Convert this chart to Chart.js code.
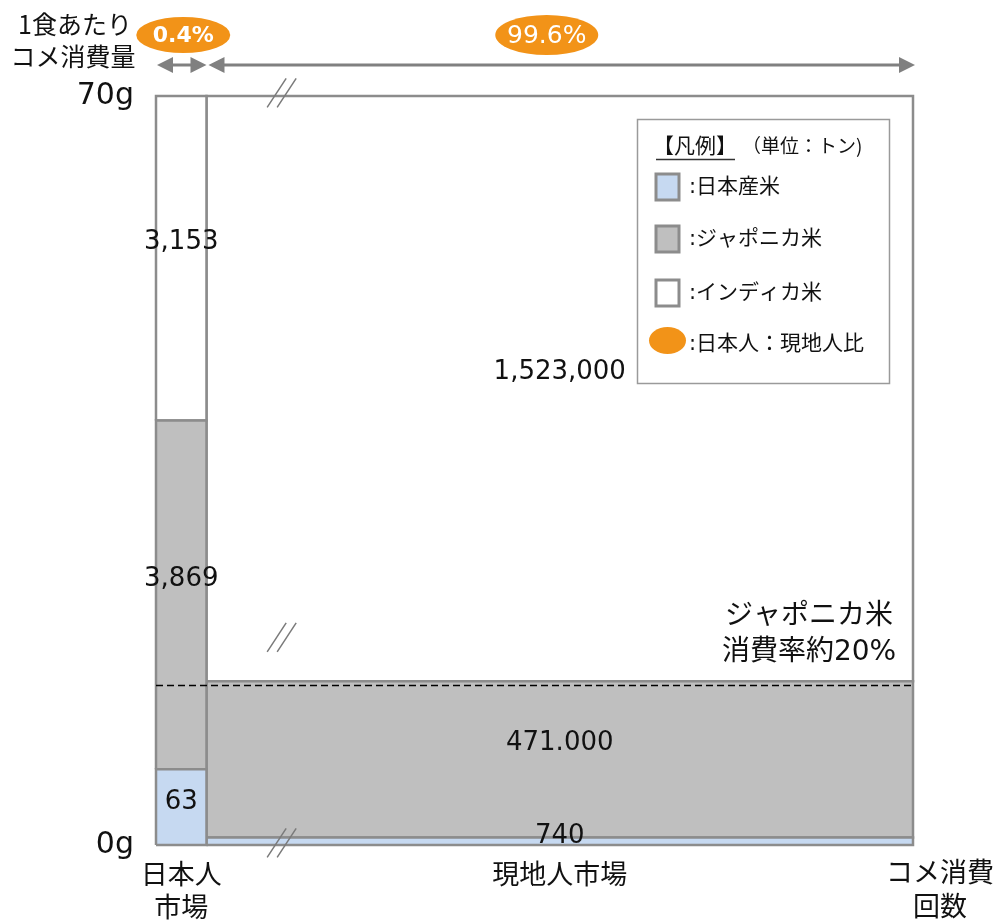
<!DOCTYPE html>
<html lang="ja">
<head>
<meta charset="utf-8">
<title>コメ消費量</title>
<script src="https://cdn.jsdelivr.net/npm/chart.js@4.4.1/dist/chart.umd.min.js"></script>
<style>
  html, body { margin: 0; padding: 0; background: #fff; }
  #wrap { width: 994px; height: 922px; position: relative; }
</style>
</head>
<body>
<div id="wrap"><canvas id="riceChart"></canvas></div>
<script>
// 市場（カテゴリ）と人数比
const MARKETS = [['日本人', '市場'], '現地人市場'];
const MARKET_SHARE = ['0.4%', '99.6%'];

// 横軸の区切り（模式図なので実比率ではない, 0-100）
const COLUMN_EDGES = [0, 6.67, 100];

// 積み上げの高さ (1食あたり g)
const JAPAN_RICE_G = [7.07, 0.7];
const JAPONICA_G = [32.6, 14.6];
const INDICA_G = [30.33, 54.7];

// 表示ラベル（トン）
const JAPAN_RICE_T = ['63', '740'];
const JAPONICA_T = ['3,869', '471.000'];
const INDICA_T = ['3,153', '1,523,000'];

const Y_TICKS = [0, 70];
const JAPONICA_LINE_G = 14.9;

const FONT_LATIN = '"DejaVu Sans", "Noto Sans CJK JP", sans-serif';
const FONT_JP = '"Noto Sans CJK JP", sans-serif';
const BORDER_GRAY = '#8c8c8c';
const ORANGE = '#F29318';

const SERIES = [
    { name: '日本産米',     heights: JAPAN_RICE_G, labels: JAPAN_RICE_T, color: '#C6D9F1' },
    { name: 'ジャポニカ米', heights: JAPONICA_G,   labels: JAPONICA_T,   color: '#BFBFBF' },
    { name: 'インディカ米', heights: INDICA_G,     labels: INDICA_T,     color: '#FFFFFF' }
];

// 各セグメントを四角形（閉じた折れ線）としてデータセット化
const rects = [];
const datasets = [];
for (let c = 0; c < MARKETS.length; c++) {
    const x0 = COLUMN_EDGES[c], x1 = COLUMN_EDGES[c + 1];
    let base = 0;
    SERIES.forEach(s => {
        const y0 = base, y1 = base + s.heights[c];
        base = y1;
        rects.push({ x0, x1, y0, y1, label: s.labels[c] });
        datasets.push({
            label: s.name,
            data: [{ x: x0, y: y0 }, { x: x1, y: y0 }, { x: x1, y: y1 }, { x: x0, y: y1 }, { x: x0, y: y0 }],
            showLine: true,
            fill: 'shape',
            backgroundColor: s.color,
            borderColor: BORDER_GRAY,
            borderWidth: 2.5,
            pointRadius: 0,
            tension: 0,
            clip: false,
            order: 1
        });
    });
}

// ジャポニカ米消費率の破線
datasets.push({
    label: 'japonica-line',
    data: [{ x: COLUMN_EDGES[0], y: JAPONICA_LINE_G }, { x: COLUMN_EDGES[COLUMN_EDGES.length - 1], y: JAPONICA_LINE_G }],
    showLine: true,
    fill: false,
    borderColor: '#000',
    borderWidth: 1.5,
    borderDash: [7, 4],
    pointRadius: 0,
    clip: false,
    order: 0
});

function centerText(ctx, text, x, y, font, color) {
    ctx.font = font;
    ctx.fillStyle = color || '#111';
    ctx.textAlign = 'center';
    ctx.textBaseline = 'middle';
    ctx.fillText(text, x, y);
}

function drawArrow(ctx, xa, xb, y) {
    ctx.strokeStyle = '#808080';
    ctx.fillStyle = '#808080';
    ctx.lineWidth = 3;
    ctx.beginPath();
    ctx.moveTo(xa + 12, y);
    ctx.lineTo(xb - 12, y);
    ctx.stroke();
    ctx.beginPath();
    ctx.moveTo(xa, y); ctx.lineTo(xa + 16, y - 8); ctx.lineTo(xa + 16, y + 8); ctx.closePath();
    ctx.moveTo(xb, y); ctx.lineTo(xb - 16, y - 8); ctx.lineTo(xb - 16, y + 8); ctx.closePath();
    ctx.fill();
}

function drawBreak(ctx, cx, cy) {
    ctx.strokeStyle = '#7a7a7a';
    ctx.lineWidth = 1.5;
    [-5, 5].forEach(d => {
        ctx.beginPath();
        ctx.moveTo(cx + d - 9.5, cy + 14.5);
        ctx.lineTo(cx + d + 9.5, cy - 14.5);
        ctx.stroke();
    });
}

const decorPlugin = {
    id: 'decor',
    afterDatasetsDraw(chart) {
        const { ctx, scales: { x, y } } = chart;
        ctx.save();
        // データラベル
        rects.forEach(r => {
            const px = (x.getPixelForValue(r.x0) + x.getPixelForValue(r.x1)) / 2;
            const top = y.getPixelForValue(r.y1), bot = y.getPixelForValue(r.y0);
            const nudge = (bot - top) > 100 ? -16 : -5;
            centerText(ctx, r.label, px, (top + bot) / 2 + nudge, '26px ' + FONT_LATIN, '#111');
        });
        ctx.restore();
    },
    afterDraw(chart) {
        const { ctx, chartArea, scales: { x, y } } = chart;
        ctx.save();

        // 左上の軸タイトル
        centerText(ctx, '1食あたり', 75, 24, '25px ' + FONT_JP);
        centerText(ctx, 'コメ消費量', 73, 56, '25px ' + FONT_JP);

        // 人数比の楕円
        const bubbleNudge = [2, -13];
        const bubbleSize = [[47, 18], [51.5, 20]];
        const bubbleFont = ['bold 22px ' + FONT_LATIN, '25px ' + FONT_LATIN];
        MARKET_SHARE.forEach((t, i) => {
            const cx = (x.getPixelForValue(COLUMN_EDGES[i]) + x.getPixelForValue(COLUMN_EDGES[i + 1])) / 2 + bubbleNudge[i];
            ctx.fillStyle = ORANGE;
            ctx.beginPath();
            ctx.ellipse(cx, 35, bubbleSize[i][0], bubbleSize[i][1], 0, 0, Math.PI * 2);
            ctx.fill();
            centerText(ctx, t, cx, 36, bubbleFont[i], '#fff');
        });

        // 幅を示す矢印
        for (let i = 0; i < MARKETS.length; i++) {
            const xa = x.getPixelForValue(COLUMN_EDGES[i]) + (i === 0 ? 1 : 2);
            const xb = x.getPixelForValue(COLUMN_EDGES[i + 1]) + (i === 0 ? 0 : 2);
            drawArrow(ctx, xa, xb, 65);
        }

        // 省略記号 (//)
        const bx = x.getPixelForValue(16.6);
        [70.3, 19.4, 0.2].forEach(v => drawBreak(ctx, bx, y.getPixelForValue(v)));

        // 注記
        const ly = y.getPixelForValue(JAPONICA_LINE_G);
        centerText(ctx, 'ジャポニカ米', 809, ly - 69, '28px ' + FONT_LATIN);
        centerText(ctx, '消費率約20%', 809, ly - 33, '28px ' + FONT_LATIN);

        // 横軸タイトル
        centerText(ctx, 'コメ消費', chartArea.right + 27, 872, '27px ' + FONT_JP);
        centerText(ctx, '回数', chartArea.right + 27, 906, '27px ' + FONT_JP);

        // 凡例
        ctx.strokeStyle = '#9a9a9a';
        ctx.lineWidth = 1.5;
        ctx.strokeRect(637.5, 119.5, 252, 264);
        ctx.fillStyle = '#111';
        ctx.textAlign = 'left';
        ctx.textBaseline = 'middle';
        ctx.font = '21px ' + FONT_JP;
        ctx.fillText('【凡例】', 653, 145);
        const tw = ctx.measureText('【凡例】').width;
        ctx.strokeStyle = '#333';
        ctx.lineWidth = 1.5;
        ctx.beginPath();
        ctx.moveTo(656, 159.5);
        ctx.lineTo(653 + tw - 2, 159.5);
        ctx.stroke();
        ctx.font = '19px ' + FONT_JP;
        ctx.fillText('（単位：トン)', 742, 146);

        const rows = [187, 239, 293];
        SERIES.forEach((s, i) => {
            ctx.fillStyle = s.color;
            ctx.fillRect(656, rows[i] - 13, 23, 26);
            ctx.strokeStyle = BORDER_GRAY;
            ctx.lineWidth = 3;
            ctx.strokeRect(656, rows[i] - 13, 23, 26);
            ctx.fillStyle = '#111';
            ctx.font = '21px ' + FONT_LATIN;
            ctx.textAlign = 'left';
            ctx.fillText(':' + s.name, 689, rows[i] + 1);
        });
        ctx.fillStyle = ORANGE;
        ctx.beginPath();
        ctx.ellipse(667.5, 340.5, 18.5, 13.5, 0, 0, Math.PI * 2);
        ctx.fill();
        ctx.fillStyle = '#111';
        ctx.font = '21px ' + FONT_LATIN;
        ctx.fillText(':日本人：現地人比', 689, 345);

        ctx.restore();
    }
};

new Chart(document.getElementById('riceChart'), {
    type: 'scatter',
    data: { datasets },
    options: {
        responsive: true,
        maintainAspectRatio: false,
        animation: false,
        layout: { padding: { top: 96, right: 81, left: 0, bottom: 0 } },
        plugins: {
            legend: { display: false },
            tooltip: { enabled: false }
        },
        scales: {
            x: {
                type: 'linear',
                min: COLUMN_EDGES[0],
                max: COLUMN_EDGES[COLUMN_EDGES.length - 1],
                afterBuildTicks: scale => {
                    scale.ticks = MARKETS.map((m, i) => ({ value: (COLUMN_EDGES[i] + COLUMN_EDGES[i + 1]) / 2 }));
                },
                afterFit: scale => { scale.height = 77; },
                grid: { display: false, drawTicks: false },
                border: { display: false },
                ticks: {
                    autoSkip: false,
                    maxRotation: 0,
                    minRotation: 0,
                    padding: 13,
                    color: '#111',
                    font: { family: FONT_JP, size: 27, lineHeight: 1.2 },
                    callback: (v, i) => MARKETS[i]
                }
            },
            y: {
                type: 'linear',
                min: Y_TICKS[0],
                max: Y_TICKS[Y_TICKS.length - 1],
                afterBuildTicks: scale => {
                    scale.ticks = Y_TICKS.map(v => ({ value: v }));
                },
                afterFit: scale => { scale.width = 156; },
                grid: { display: false, drawTicks: false },
                border: { display: false },
                ticks: {
                    padding: 22,
                    color: '#111',
                    font: { family: FONT_LATIN, size: 30 },
                    callback: v => v + 'g'
                }
            }
        }
    },
    plugins: [decorPlugin]
});
</script>
</body>
</html>
